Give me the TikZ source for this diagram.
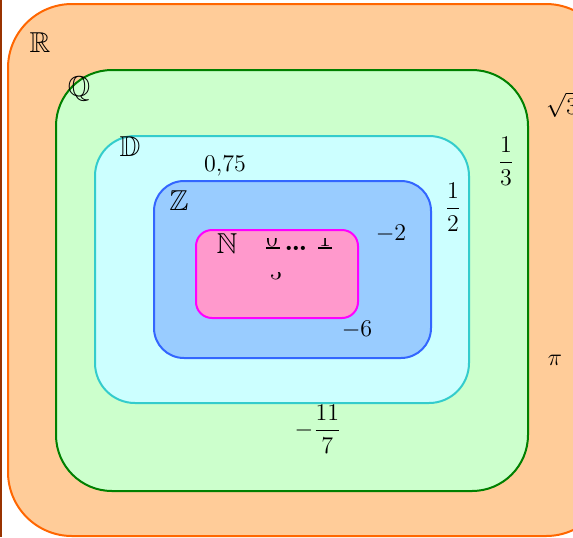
\documentclass[tikz,border=0pt]{standalone}
\usepackage{amsmath,amssymb}
\usepackage{xcolor}
\usepackage{tikz}
\definecolor{rfill}{HTML}{FFCC99}
\definecolor{rdraw}{HTML}{FF6600}
\definecolor{qfill}{HTML}{CCFFCC}
\definecolor{qdraw}{HTML}{008000}
\definecolor{dfill}{HTML}{CCFFFF}
\definecolor{ddraw}{HTML}{33CCCC}
\definecolor{zfill}{HTML}{99CCFF}
\definecolor{zdraw}{HTML}{3366FF}
\definecolor{nfill}{HTML}{FF99CC}
\definecolor{ndraw}{HTML}{FF00FF}
\definecolor{edge}{HTML}{993300}
\tikzset{
  sset/.style={line width=1pt},
  slbl/.style={font=\Large, inner sep=0pt},
  snum/.style={font=\large, inner sep=0pt},
}

\begin{document}
\begin{tikzpicture}[x=0.5pt,y=-0.5pt]
  \useasboundingbox (0,0) rectangle (573,537);
  \clip (0,0) rectangle (573,537);

  % sets, outer to inner
  \draw[sset, fill=rfill, draw=rdraw, rounded corners=32pt] (8,4) rectangle (610,536);
  \draw[sset, fill=qfill, draw=qdraw, rounded corners=28pt] (56,70) rectangle (528,491);
  \draw[sset, fill=dfill, draw=ddraw, rounded corners=20pt] (95,136) rectangle (469,403);
  \draw[sset, fill=zfill, draw=zdraw, rounded corners=15pt] (154,181) rectangle (431,358);
  \draw[sset, fill=nfill, draw=ndraw, rounded corners=8pt] (196,230) rectangle (358,318);
  \draw[edge, line width=1pt] (1,0) -- (1,537);

  % set names
  \node[slbl] (lR) at (40,43)  {$\mathbb{R}$};
  \node[slbl] (lQ) at (79,89)  {$\mathbb{Q}$};
  \node[slbl] (lD) at (130,147) {$\mathbb{D}$};
  \node[slbl] (lZ) at (179,201) {$\mathbb{Z}$};
  \node[slbl] (lN) at (227,244) {$\mathbb{N}$};

  % elements
  \node[snum] (sq3)  at (562,105) {$\sqrt{3}$};
  \node[snum] (th)   at (506,161) {$\dfrac{1}{3}$};
  \node[snum] (hf)   at (453,207) {$\dfrac{1}{2}$};
  \node[snum] (dec)  at (225,166) {0,75};
  \node[snum] (m2)   at (391,234) {$-2$};
  \node[snum] (m6)   at (357,330) {$-6$};
  \node[snum] (pi)   at (555,360) {$\pi$};
  \node[snum] (m117) at (318,429) {$-\dfrac{11}{7}$};

  % naturals, cut off at the top
  \begin{scope}
    \clip (255,238) rectangle (340,250) (255,272) rectangle (300,292);
    \node[snum] (n0) at (272,239) {0};
    \node[snum] (n1) at (325,239) {1};
    \node[snum] (n3) at (276,272) {3};
    \draw[line width=1.2pt] (266,248) -- (280,248) (318,248) -- (332,248);
  \end{scope}
  \node[snum, font=\Large\bfseries] (dots) at (296,248) {\dots};

\end{tikzpicture}
\end{document}
